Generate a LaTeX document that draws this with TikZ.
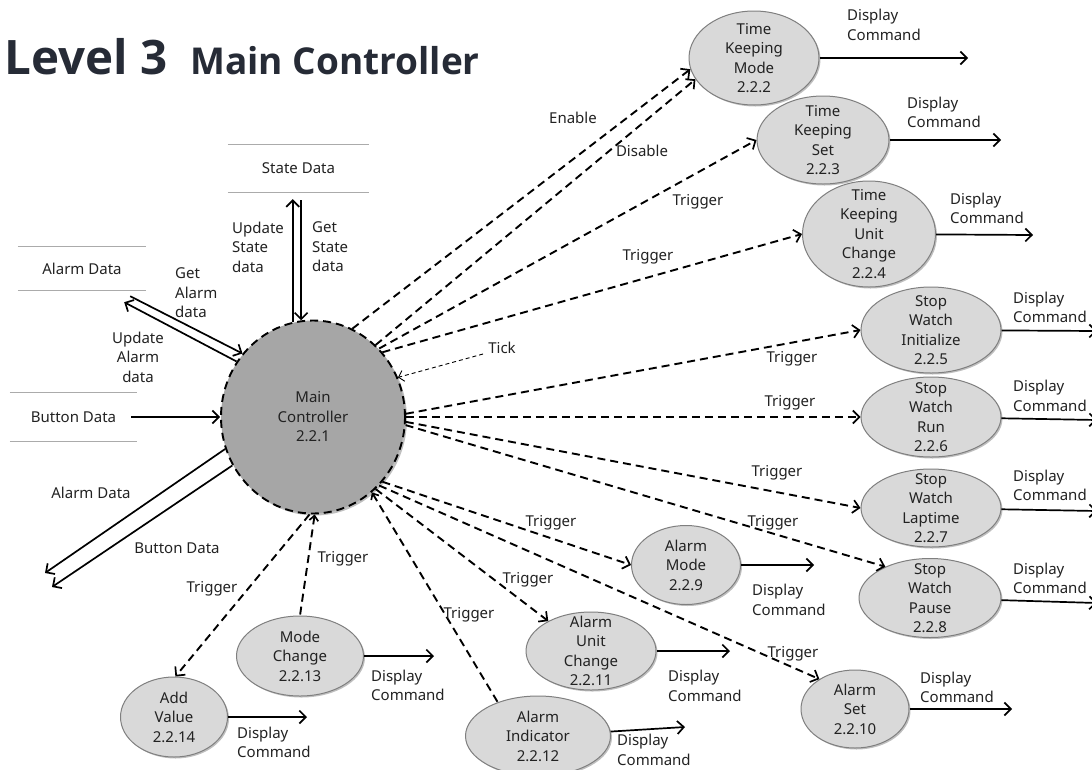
\documentclass[tikz,border=0pt]{standalone}
\usepackage{fontspec}
\setmainfont{Noto Sans}
\newfontfamily\titlefont{Open Sans}
\usetikzlibrary{arrows.meta,shapes.geometric,shadows}
\definecolor{procfill}{HTML}{D9D9D9}
\definecolor{procline}{HTML}{7F7F7F}
\definecolor{mainfill}{HTML}{A6A6A6}
\definecolor{storegray}{HTML}{ABABAB}
\definecolor{txt}{HTML}{222222}
\definecolor{titlec}{HTML}{262B36}
\newcommand{\lbl}{\fontsize{15}{19.5}\selectfont}
\newcommand{\procnode}[6]{%
  \node[proc, minimum width=#4, minimum height=#5] (#1) at (#2,#3) {};
  \node[ptext] (#1t) at (#1) {#6};}
\tikzset{
  proc/.style={ellipse, draw=procline, fill=procfill, line width=1pt, inner sep=0pt,
    drop shadow={shadow xshift=1.5pt, shadow yshift=-1.5pt, opacity=0.25, fill=black}},
  ptext/.style={align=center, inner sep=0pt, font=\lbl, text=txt},
  lbl/.style={inner sep=0pt, font=\lbl, text=txt},
  dc/.style={lbl, align=left, anchor=west},
  flow/.style={line width=1.7pt, -{Straight Barb[length=6.5pt,width=13pt,line width=1.7pt]}},
  trig/.style={flow, line width=1.9pt, dash pattern=on 8pt off 5pt},
  tickline/.style={line width=0.9pt, dash pattern=on 4pt off 3pt, -{Straight Barb[length=5pt,width=11pt,line width=0.9pt]}},
  store/.style={inner sep=0pt, font=\lbl, text=txt},
  storeline/.style={draw=storegray, line width=1.3pt},
}
\begin{document}
\begin{tikzpicture}[x=1pt,y=-1pt]
\useasboundingbox[fill=white] (0,0) rectangle (1092,769);

% title
\node[anchor=base west, inner sep=0pt, text=titlec, font=\titlefont\fontsize{47.5}{50}\selectfont\bfseries] (title1) at (4,74) {Level 3};
\node[anchor=base west, inner sep=0pt, text=titlec, font=\titlefont\fontsize{37}{40}\selectfont\bfseries] (title2) at (190,74) {Main Controller};

% main controller
\node[ellipse, minimum width=184, minimum height=193, fill=mainfill, draw=black, line width=1.9pt,
      dash pattern=on 8pt off 5pt, inner sep=0pt,
      drop shadow={shadow xshift=2pt, shadow yshift=-2pt, opacity=0.25, fill=black}] (main) at (313,417) {};
\node[ptext] (maint) at (main) {Main\\Controller\\2.2.1};

% data stores
\node[store, minimum width=141, minimum height=47] (stateD) at (298.5,168.5) {State Data};
\draw[storeline] (stateD.north west) -- (stateD.north east) (stateD.south west) -- (stateD.south east);
\node[store, minimum width=128, minimum height=43] (alarmD) at (82,268.5) {Alarm Data};
\draw[storeline] (alarmD.north west) -- (alarmD.north east) (alarmD.south west) -- (alarmD.south east);
\node[store, minimum width=127, minimum height=48] (buttonD) at (73.5,417) {Button Data};
\draw[storeline] (buttonD.north west) -- (buttonD.north east) (buttonD.south west) -- (buttonD.south east);

% processes
\procnode{tkm}{754}{58}{130}{94}{Time\\Keeping\\Mode\\2.2.2}
\procnode{tks}{823}{140}{132}{88}{Time\\Keeping\\Set\\2.2.3}
\procnode{tkuc}{869}{234}{133}{106}{Time\\Keeping\\Unit\\Change\\2.2.4}
\procnode{swi}{931}{330}{140}{86}{Stop\\Watch\\Initialize\\2.2.5}
\procnode{swr}{931}{417}{140}{80}{Stop\\Watch\\Run\\2.2.6}
\procnode{swl}{931}{508}{140}{78}{Stop\\Watch\\Laptime\\2.2.7}
\procnode{swp}{930}{598}{142}{79}{Stop\\Watch\\Pause\\2.2.8}
\procnode{am}{686}{565}{109}{79}{Alarm\\Mode\\2.2.9}
\procnode{auc}{591}{651}{130}{78}{Alarm\\Unit\\Change\\2.2.11}
\procnode{ai}{538}{736}{145}{80}{Alarm\\Indicator\\2.2.12}
\procnode{aset}{855}{709}{108}{78}{Alarm\\Set\\2.2.10}
\procnode{mch}{300}{656}{127}{80}{Mode\\Change\\2.2.13}
\procnode{av}{174}{717}{107}{80}{Add\\Value\\2.2.14}

% display command outputs
\coordinate (tkmE) at (968,58);
\coordinate (tksE) at (1001,140);
\coordinate (tkucE) at (1033,235);
\coordinate (swiE) at (1097,331);
\coordinate (swrE) at (1097,420);
\coordinate (swlE) at (1097,511);
\coordinate (swpE) at (1097,603);
\coordinate (amE) at (814,565);
\coordinate (aucE) at (730,651);
\coordinate (aiE) at (685,727);
\coordinate (asetE) at (1012,709);
\coordinate (mchE) at (434,656);
\coordinate (avE) at (307,717);
\foreach \n in {tkm,tks,tkuc,swi,swr,swl,swp,am,auc,ai,aset,mch,av}
  \draw[flow] (\n) -- (\n E);

\node[dc] (dc1) at (847,25) {Display\\Command};
\node[dc] (dc2) at (907,112.5) {Display\\Command};
\node[dc] (dc3) at (950,208.5) {Display\\Command};
\node[dc] (dc4) at (1013,307.5) {Display\\Command};
\node[dc] (dc5) at (1013,396) {Display\\Command};
\node[dc] (dc6) at (1013,485.5) {Display\\Command};
\node[dc] (dc7) at (1013,578.5) {Display\\Command};
\node[dc] (dc8) at (752,600) {Display\\Command};
\node[dc] (dc9) at (668,686) {Display\\Command};
\node[dc] (dc10) at (617,750) {Display\\Command};
\node[dc] (dc11) at (920,687.5) {Display\\Command};
\node[dc] (dc12) at (371,685.5) {Display\\Command};
\node[dc] (dc13) at (237,742.5) {Display\\Command};

% trigger / control flows
\draw[trig] (main.66) -- (tkm.190);
\draw[trig] (main.49) -- (tkm.200);
\draw[trig] (main.46) -- (tks.west);
\draw[trig] (main.43) -- (tkuc.west);
\draw[trig] (main.2) -- (swi.west);
\draw[trig] (main.0) -- (swr.west);
\draw[trig] (main.-3) -- (swl.west);
\draw[trig] (main.-5) -- (swp.145);
\draw[trig] (main.-43) -- (am.west);
\draw[trig] (main.-46) -- (aset.140);
\draw[trig] (main.-49) -- (auc.145);
\draw[trig, {Straight Barb[length=5pt,width=9pt,line width=1.7pt]}-] (main.-52) -- (ai.140);
\draw[trig, {Straight Barb[length=5pt,width=9pt,line width=1.7pt]}-] (main.-89) -- (mch.north);
\draw[trig] (main.-92) -- (av.88);

\coordinate (tickS) at (483,354);
\draw[tickline] (tickS) -- (main.25);

\node[lbl] (lEnable) at (573,118) {Enable};
\node[lbl] (lDisable) at (642,151) {Disable};
\node[lbl] (lt1) at (698,202) {Trigger};
\node[lbl] (lt2) at (648,257) {Trigger};
\node[lbl] (lTick) at (502,348) {Tick};
\node[lbl] (lt3) at (792,359) {Trigger};
\node[lbl] (lt4) at (790,403) {Trigger};
\node[lbl] (lt5) at (777,473) {Trigger};
\node[lbl] (lt6) at (773,523) {Trigger};
\node[lbl] (lt7) at (551,523) {Trigger};
\node[lbl] (lt8) at (528,580) {Trigger};
\node[lbl] (lt9) at (469,615) {Trigger};
\node[lbl] (lt10) at (793,654) {Trigger};
\node[lbl] (lt11) at (343,559) {Trigger};
\node[lbl] (lt12) at (212,589) {Trigger};

% data flows
\draw[flow, shorten >=7pt] (main.102) -- (main.102 |- stateD.south);
\draw[flow, shorten <=8pt] (stateD.south -| main.97) -- (main.97);
\node[lbl, align=left, anchor=west] (lUpS) at (232,247) {Update\\State\\data};
\node[lbl, align=left, anchor=west] (lGetS) at (312,247) {Get\\State\\data};

\draw[flow] ([shift={(-16,6)}]alarmD.south east) -- (main.138);
\draw[flow] (main.144) -- ([shift={(-22,12)}]alarmD.south east);
\node[lbl, align=left, anchor=west] (lGetA) at (175,293) {Get\\Alarm\\data};
\node[lbl, align=center] (lUpA) at (138,357) {Update\\Alarm\\data};

\draw[flow] ([xshift=-6pt]buttonD.east) -- (main.west);

\coordinate (alarmOut) at (45,573);
\coordinate (buttonOut) at (52,587);
\draw[flow] (main.200) -- (alarmOut);
\draw[flow] (main.211) -- (buttonOut);
\node[lbl] (lAlarmOut) at (91,493) {Alarm Data};
\node[lbl] (lButtonOut) at (177,548) {Button Data};
\end{tikzpicture}
\end{document}
